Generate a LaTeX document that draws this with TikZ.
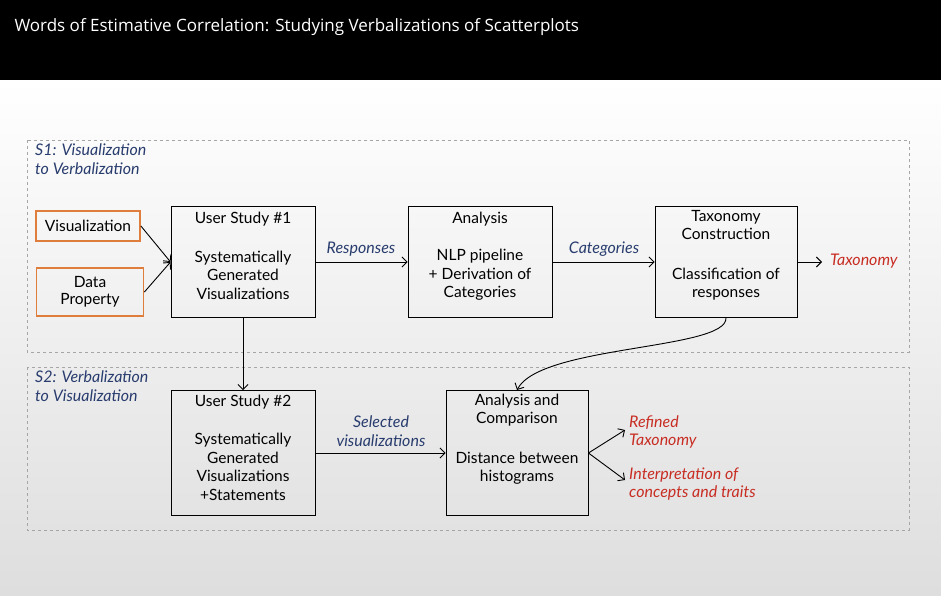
\documentclass[tikz,border=0pt]{standalone}
\usepackage{fontspec}
\setmainfont{Lato}
\newfontfamily\titlefont{Open Sans}
\usetikzlibrary{positioning,arrows.meta}
\definecolor{boxorange}{RGB}{222,125,60}
\definecolor{lblblue}{RGB}{40,60,110}
\definecolor{lblred}{RGB}{200,45,35}
\tikzset{
  stepbox/.style={draw=black,line width=0.9pt,minimum width=144pt,minimum height=111pt,inner sep=0pt},
  inbox/.style={draw=boxorange,line width=1.8pt,inner sep=3pt,align=center,font=\fontsize{15.5}{17}\selectfont},
  boxtitle/.style={anchor=north,align=center,inner sep=0pt,font=\fontsize{15.5}{18}\selectfont},
  boxbody/.style={align=center,inner sep=0pt,font=\fontsize{15.5}{18.5}\selectfont},
  flowlbl/.style={align=center,inner sep=0pt,font=\itshape\fontsize{16}{18.5}\selectfont,text=lblblue},
  outlbl/.style={align=left,inner sep=0pt,font=\itshape\fontsize{16}{18.5}\selectfont,text=lblred},
  stagebox/.style={draw=gray!70,dashed,line width=0.6pt},
  arr/.style={-{Straight Barb[length=5pt]},line width=0.9pt}
}
\begin{document}
\begin{tikzpicture}[x=1pt,y=1pt,yscale=-1]
\useasboundingbox (0,0) rectangle (941,596);
% background
\shade[top color=white,bottom color=black!13] (0,80) rectangle (941,596);
\fill[black] (0,0) rectangle (941,80);
\node[anchor=west,text=white,font=\titlefont\fontsize{17}{19}\selectfont] (title) at (11,27) {Words of Estimative Correlation: Studying Verbalizations of Scatterplots};

% stages
\draw[stagebox] (27,140) rectangle (909,352);
\draw[stagebox] (27,367) rectangle (909,530);
\node[anchor=north west,flowlbl,align=left] (s1) at (35,144) {S1: Visualization\\to Verbalization};
\node[anchor=north west,flowlbl,align=left] (s2) at (35,371) {S2: Verbalization\\to Visualization};

% inputs
\node[inbox,minimum width=104pt,minimum height=30pt] (vis) at (88,226) {Visualization};
\node[inbox,minimum width=107pt,minimum height=48pt] (dprop) at (90,292) {Data\\Property};

% stage boxes
\node[stepbox] (us1) at (243,262) {};
\node[boxtitle] at ([yshift=6pt]us1.north) {User Study \#1};
\node[boxbody] at (243,275) {Systematically\\Generated\\Visualizations};

\node[stepbox] (ana) at (480,262) {};
\node[boxtitle] at ([yshift=6pt]ana.north) {Analysis};
\node[boxbody] at (480,275) {NLP pipeline\\+ Derivation of\\Categories};

\node[stepbox,minimum width=142pt] (tax) at (726,262) {};
\node[boxtitle] at ([yshift=4pt]tax.north) {Taxonomy\\Construction};
\node[boxbody] at (726,284) {Classification of\\responses};

\node[stepbox,minimum height=125pt] (us2) at (243,453) {};
\node[boxtitle] at ([yshift=5pt]us2.north) {User Study \#2};
\node[boxbody] at (243,467) {Systematically\\Generated\\Visualizations\\+Statements};

\node[stepbox,minimum width=142pt,minimum height=125pt] (cmp) at (517,453) {};
\node[boxtitle] at ([yshift=4pt]cmp.north) {Analysis and\\Comparison};
\node[boxbody] at (517,468) {Distance between\\histograms};

% labels
\node[flowlbl] (resp) at (361,249) {Responses};
\node[flowlbl] (cats) at (604,249) {Categories};
\node[outlbl,anchor=west] (taxo) at (830,261) {Taxonomy};
\node[flowlbl] (selvis) at (381,431) {Selected\\visualizations};
\node[outlbl,anchor=west] (refined) at (629,432) {Refined\\Taxonomy};
\node[outlbl,anchor=west] (interp) at (629,484) {Interpretation of\\concepts and traits};
\coordinate (joinin) at (us1.west);
\coordinate (taxend) at (822,262);
\coordinate (refend) at (625,430);
\coordinate (intend) at (625,480);

% connectors
\draw[arr] (vis.east) -- (joinin);
\draw[arr] (dprop.east) -- (joinin);
\draw[arr] (us1) -- (ana);
\draw[arr] (ana) -- (tax);
\draw[arr] (tax) -- (taxend);
\draw[arr] (us1) -- (us2);
\draw[arr] (tax.south) .. controls (727,350) and (540,345) .. (cmp.north);
\draw[arr] (us2.east) -- (cmp.west);
\draw[arr] (cmp.east) -- (refend);
\draw[arr] (cmp.east) -- (intend);
\end{tikzpicture}
\end{document}
